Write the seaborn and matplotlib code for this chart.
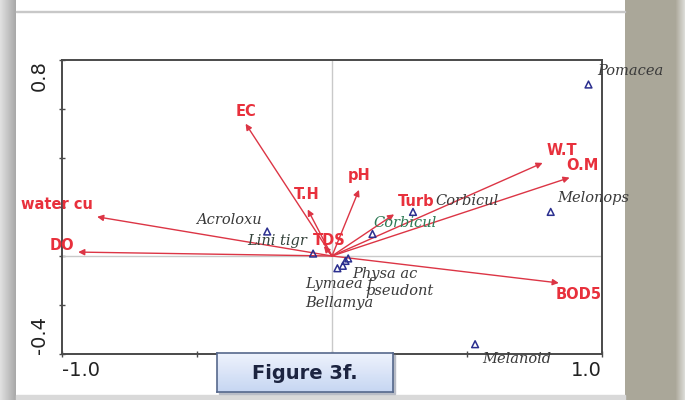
import numpy as np
import pandas as pd
import matplotlib
matplotlib.use("Agg")
import matplotlib.pyplot as plt
from matplotlib.patches import Rectangle
import seaborn as sns

# Environmental variables (biplot arrows)
env_names = ["EC", "T.H", "pH", "TDS", "Turb", "W.T", "O.M", "BOD5", "water cu", "DO"]
env_x = [-0.32, -0.09, 0.10, -0.03, 0.23, 0.78, 0.88, 0.84, -0.87, -0.94]
env_y = [0.54, 0.19, 0.27, 0.04, 0.17, 0.38, 0.32, -0.11, 0.16, 0.016]

# Species scores
species = ["Pomacea", "Melonops", "Melanoid", "Corbicul", "Corbicul", "Acroloxu",
           "Lini tigr", "Physa ac", "Lymaea f", "Bellamya", "pseudont"]
sp_x = [0.95, 0.81, 0.53, 0.30, 0.15, -0.24, -0.07, 0.06, 0.04, 0.02, 0.05]
sp_y = [0.70, 0.18, -0.36, 0.18, 0.09, 0.10, 0.01, -0.01, -0.04, -0.05, -0.02]

x_ticks = [-1.0, -0.5, 0.0, 0.5, 1.0]
y_ticks = [-0.4, -0.2, 0.0, 0.2, 0.4, 0.6, 0.8]

# label placement (offset in points, horizontal alignment)
env_offsets = [(0, 9, "center"), (-1, 11, "center"), (0, 10, "center"), (4, 4, "center"),
               (3, 9, "left"), (14, 9, "center"), (9, 9, "center"), (14, -8, "center"),
               (-3, 9, "right"), (-3, 5, "right")]
sp_offsets = [(6, 10, "left"), (5, 10, "left"), (5, -11, "left"), (16, 8, "left"),
              (1, 8, "left"), (-4, 8, "right"), (-4, 9, "right"), (3, -11, "left"),
              (-27, -13, "left"), (-23, -25, "left"), (14, -22, "left")]
sp_colors = ["#3a3a3a", "#3a3a3a", "#3a3a3a", "#3a3a3a", "#2e7a55", "#3a3a3a",
             "#34423a", "#3a3a3a", "#3a3a3a", "#3a3a3a", "#3a3a3a"]

sns.set_style("white")
plt.rcParams["font.family"] = ["DejaVu Sans"]

W, H = 685, 400
fig = plt.figure(figsize=(W / 100, H / 100), dpi=100)
fig.patch.set_facecolor("white")


def fr(x0, y0, x1, y1):
    """pixel box (top-left origin) -> figure fraction rectangle"""
    return [x0 / W, 1 - y1 / H, (x1 - x0) / W, (y1 - y0) / H]


# page decorations: left shadow, top rule, right grey band, bottom strip
sh = fig.add_axes(fr(0, 0, 16, 400))
sh.imshow(np.linspace(0.88, 0.66, 32)[None, :], cmap="gray", vmin=0, vmax=1,
          aspect="auto", extent=[0, 1, 0, 1])
sh.set_axis_off()
fig.patches.append(Rectangle((16 / W, 1 - 12 / H), (625 - 16) / W, 1.2 / H,
                             transform=fig.transFigure, color="#c8c8c8", zorder=0))
band = fig.add_axes(fr(625, 0, 685, 400))
band_rgb = np.ones((1, 60, 3)) * np.array([0.67, 0.655, 0.60])
band_rgb[0, 50:] = np.linspace([0.67, 0.655, 0.60], [0.86, 0.86, 0.84], 10)
band.imshow(band_rgb, aspect="auto", extent=[0, 1, 0, 1])
band.set_axis_off()
fig.patches.append(Rectangle((16 / W, 0), (625 - 16) / W, 5 / H,
                             transform=fig.transFigure, color="#d9d9d9", zorder=0))

# main ordination axes
ax = fig.add_axes(fr(62, 60, 602, 354))
ax.set_xlim(-1.0, 1.0)
ax.set_ylim(-0.4, 0.8)
ax.axhline(0, color="#c9c9c9", lw=1.0, zorder=1)
ax.axvline(0, color="#c9c9c9", lw=1.0, zorder=1)
for s in ax.spines.values():
    s.set_color("#4a4a4a")
    s.set_linewidth(1.4)
ax.set_xticks(x_ticks)
ax.set_yticks(y_ticks)
ax.set_xticklabels([])
ax.set_yticklabels([])
ax.tick_params(direction="inout", length=4, width=1, color="#4a4a4a",
               bottom=True, left=True)
ax.set_xlabel("")
ax.set_ylabel("")

# end-of-axis labels
ylab = ax.get_yaxis_transform()
xlab = ax.get_xaxis_transform()
ax.text(-0.042, y_ticks[-1], f"{y_ticks[-1]:.1f}", transform=ylab, rotation=90,
        ha="center", va="top", fontsize=14, color="#222222")
ax.text(-0.042, y_ticks[0], f"{y_ticks[0]:.1f}", transform=ylab, rotation=90,
        ha="center", va="bottom", fontsize=14, color="#222222")
ax.text(x_ticks[0], -0.025, f"{x_ticks[0]:.1f}", transform=xlab,
        ha="left", va="top", fontsize=14, color="#222222")
ax.text(x_ticks[-1], -0.025, f"{x_ticks[-1]:.1f}", transform=xlab,
        ha="right", va="top", fontsize=14, color="#222222")

# environmental arrows
arrow_col = "#dc3545"
for name, x, y, (dx, dy, ha) in zip(env_names, env_x, env_y, env_offsets):
    ax.annotate("", xy=(x, y), xytext=(0, 0),
                arrowprops=dict(arrowstyle="-|>", color=arrow_col, lw=1.0,
                                mutation_scale=9, shrinkA=0, shrinkB=0),
                zorder=3)
    ax.annotate(name, xy=(x, y), xytext=(dx, dy), textcoords="offset points",
                ha=ha, va="center", fontsize=10.5, fontweight="bold",
                color="#e8303c", zorder=4, annotation_clip=False)

# species points
df = pd.DataFrame({"species": species, "x": sp_x, "y": sp_y})
sns.scatterplot(data=df, x="x", y="y", marker="^", s=24, facecolor="none",
                edgecolor="#2b2f8f", linewidth=1.1, ax=ax, zorder=5, legend=False)
ax.set_xlabel("")
ax.set_ylabel("")
for name, x, y, (dx, dy, ha), c in zip(species, sp_x, sp_y, sp_offsets, sp_colors):
    ax.annotate(name, xy=(x, y), xytext=(dx, dy), textcoords="offset points",
                ha=ha, va="center", fontsize=10.5, fontstyle="italic",
                family="DejaVu Serif", color=c, zorder=6, annotation_clip=False)

# caption box
shadow = Rectangle((219 / W, 1 - 394 / H), 176 / W, 39 / H, transform=fig.transFigure,
                   color="#b8bcc6", zorder=9)
fig.patches.append(shadow)
cap = fig.add_axes(fr(217, 353, 393, 392), zorder=10)
grad = np.linspace(0, 1, 40)[:, None, None]
top_c = np.array([0.93, 0.95, 0.99])
bot_c = np.array([0.78, 0.84, 0.95])
cap.imshow(top_c * (1 - grad) + bot_c * grad, aspect="auto", extent=[0, 1, 0, 1])
cap.set_xticks([])
cap.set_yticks([])
for s in cap.spines.values():
    s.set_color("#56688c")
    s.set_linewidth(1.2)
cap.text(0.5, 0.47, "Figure 3f.", ha="center", va="center", fontsize=14,
         fontweight="bold", color="#1c2440", transform=cap.transAxes)

fig.savefig("out.png", dpi=100)
